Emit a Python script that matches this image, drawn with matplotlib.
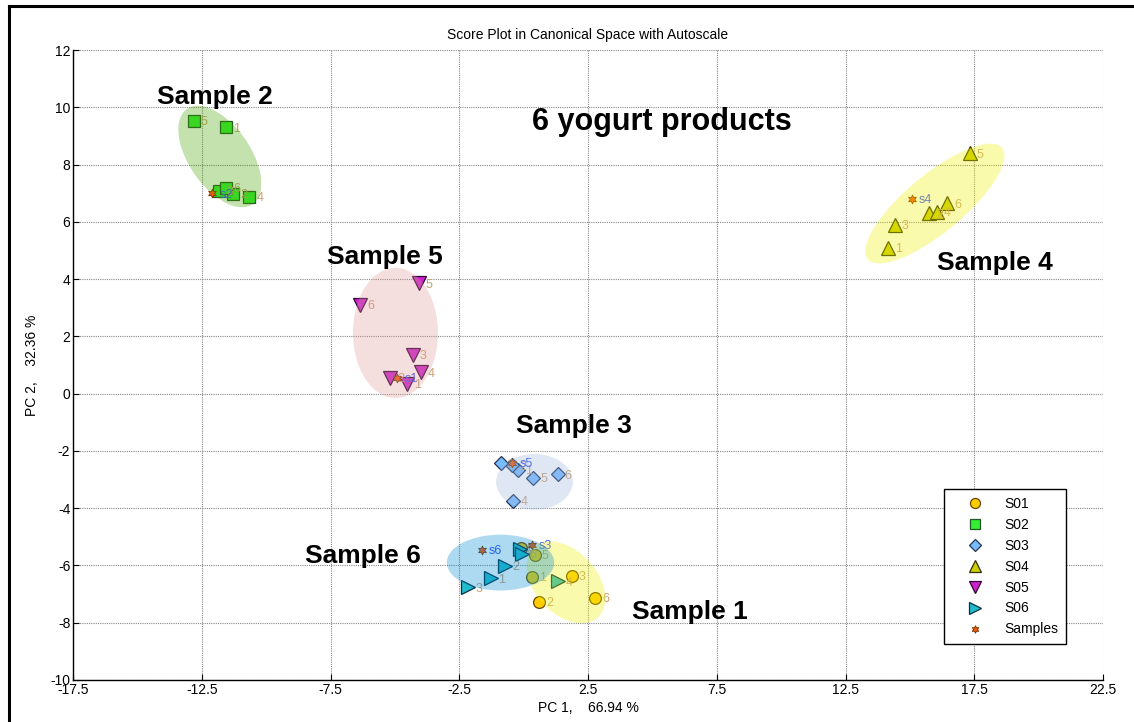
import matplotlib.pyplot as plt
from matplotlib.patches import Ellipse
from matplotlib.lines import Line2D

plt.rcParams['font.family'] = ['Liberation Sans', 'DejaVu Sans']
plt.rcParams['axes.unicode_minus'] = False

# canonical scores of the six yogurt products, replicates 1..6
groups = ['S01', 'S02', 'S03', 'S04', 'S05', 'S06']
rep_labels = ['1', '2', '3', '4', '5', '6']

s01_x = [0.31, 0.61, 1.87, -0.12, 0.44, 2.77]
s01_y = [-6.39, -7.26, -6.37, -5.40, -5.63, -7.12]
s02_x = [-11.56, -11.28, -11.82, -10.65, -12.80, -11.56]
s02_y = [9.30, 6.97, 7.09, 6.88, 9.52, 7.19]
s03_x = [-0.23, -0.45, -0.89, -0.40, 0.38, 1.32]
s03_y = [-2.66, -2.50, -2.43, -3.75, -2.95, -2.82]
s04_x = [14.14, 15.74, 14.42, 16.04, 17.33, 16.45]
s04_y = [5.10, 6.30, 5.90, 6.35, 8.40, 6.65]
s05_x = [-4.52, -5.19, -4.31, -4.00, -4.08, -6.35]
s05_y = [0.35, 0.55, 1.35, 0.75, 3.85, 3.10]
s06_x = [-1.28, -0.72, -2.15, 1.35, -0.14, -0.05]
s06_y = [-6.45, -6.02, -6.77, -6.56, -5.42, -5.60]

# unknown samples projected into the same space
sample_labels = ['s1', 's2', 's3', 's4', 's5', 's6']
sample_x = [-4.90, -12.09, 0.31, 15.07, -0.44, -1.63]
sample_y = [0.55, 7.00, -5.28, 6.80, -2.41, -5.46]

# group ellipses: centre x, centre y, width, height, angle
ell_cx = [1.64, -11.80, 0.42, 15.97, -4.98, -0.90]
ell_cy = [-6.59, 8.28, -3.08, 6.64, 2.12, -5.90]
ell_w = [3.5, 4.2, 2.98, 6.5, 3.3, 4.17]
ell_h = [2.3, 2.3, 1.95, 2.1, 4.55, 1.95]
ell_ang = [-40, -50, 0, 36, 0, 0]

group_names = ['Sample 1', 'Sample 2', 'Sample 3', 'Sample 4', 'Sample 5', 'Sample 6']
name_x = [4.21, -14.24, -0.30, 16.05, -7.64, -8.49]
name_y = [-7.62, 10.36, -1.13, 4.56, 4.77, -5.67]

xs = [s01_x, s02_x, s03_x, s04_x, s05_x, s06_x]
ys = [s01_y, s02_y, s03_y, s04_y, s05_y, s06_y]
markers = ['o', 's', 'D', '^', 'v', '>']
msizes = [8.5, 8.5, 7, 9.5, 9.5, 9.5]
faces = ['#ffcc00', '#33ee33', '#77bbff', '#cccc00', '#cc22cc', '#22bbcc']
edges = ['#664400', '#225522', '#223355', '#333300', '#330033', '#003344']
ell_colors = ['#f1f100', '#48a500', '#9eb6e1', '#f1f100', '#dd9b9b', '#008ad4']

fig = plt.figure(figsize=(11.34, 7.22), dpi=100)
ax = fig.add_axes([0.0644, 0.0582, 0.9083, 0.8725])

for i in range(len(groups)):
    ax.plot(xs[i], ys[i], linestyle='none', marker=markers[i], markersize=msizes[i],
            markerfacecolor=faces[i], markeredgecolor=edges[i], markeredgewidth=0.9,
            label=groups[i], zorder=2)
    for lab, x, y in zip(rep_labels, xs[i], ys[i]):
        ax.annotate(lab, (x, y), xytext=(5, -1), textcoords='offset points',
                    va='center', ha='left', fontsize=9, color='#c8a070', zorder=2.5)
    ax.add_patch(Ellipse((ell_cx[i], ell_cy[i]), ell_w[i], ell_h[i], angle=ell_ang[i],
                         facecolor=ell_colors[i], edgecolor='none', alpha=0.32, zorder=3))

ax.plot(sample_x, sample_y, linestyle='none', marker=(6, 1, 0), markersize=6.5,
        markerfacecolor='#ff5500', markeredgecolor='#773300', markeredgewidth=0.6,
        label='Samples', zorder=2.6)
for lab, x, y in zip(sample_labels, sample_x, sample_y):
    ax.annotate(lab, (x, y), xytext=(5, -1), textcoords='offset points',
                va='center', ha='left', fontsize=9, color='#3355ff', zorder=2.7)

for name, x, y in zip(group_names, name_x, name_y):
    ax.text(x, y, name, fontsize=19, fontweight='bold', va='center', ha='left', zorder=5)
ax.text(5.37, 9.49, '6 yogurt products', fontsize=22, fontweight='bold',
        va='center', ha='center', zorder=5)

ax.set_xlim(-17.5, 22.5)
ax.set_ylim(-10, 12)
ax.set_xticks([-17.5, -12.5, -7.5, -2.5, 2.5, 7.5, 12.5, 17.5, 22.5])
ax.set_xticklabels(['-17.5', '-12.5', '-7.5', '-2.5', '2.5', '7.5', '12.5', '17.5', '22.5'])
ax.set_yticks(range(-10, 13, 2))
ax.tick_params(direction='in', length=4, labelsize=10, pad=2)
ax.grid(True, color='#888888', linestyle=(0, (1, 1)), linewidth=0.8)
ax.set_axisbelow(True)
for side in ['top', 'right']:
    ax.spines[side].set_visible(False)
for side in ['left', 'bottom']:
    ax.spines[side].set_linewidth(1.0)

ax.set_title('Score Plot in Canonical Space with Autoscale', fontsize=10, pad=8)
ax.set_xlabel('PC 1,    66.94 %', fontsize=10, labelpad=3)
ax.set_ylabel('PC 2,    32.36 %', fontsize=10, labelpad=8)

leg = ax.legend(loc='lower right', bbox_to_anchor=(0.964, 0.057), borderaxespad=0,
                fontsize=10, labelspacing=0.5, handlelength=3.4, handletextpad=0.4,
                borderpad=0.55, fancybox=False, framealpha=1, edgecolor='black',
                markerscale=0.85, numpoints=1)
leg.get_frame().set_linewidth(1.0)
leg.set_zorder(6)

# outer frame on the left and top edges
fig.add_artist(Line2D([0.0079, 0.0079], [0, 0.9917], color='black', linewidth=2.2,
                      transform=fig.transFigure))
fig.add_artist(Line2D([0.0079, 1.0], [0.9917, 0.9917], color='black', linewidth=2.2,
                      transform=fig.transFigure))

fig.savefig('out.png', dpi=100)
